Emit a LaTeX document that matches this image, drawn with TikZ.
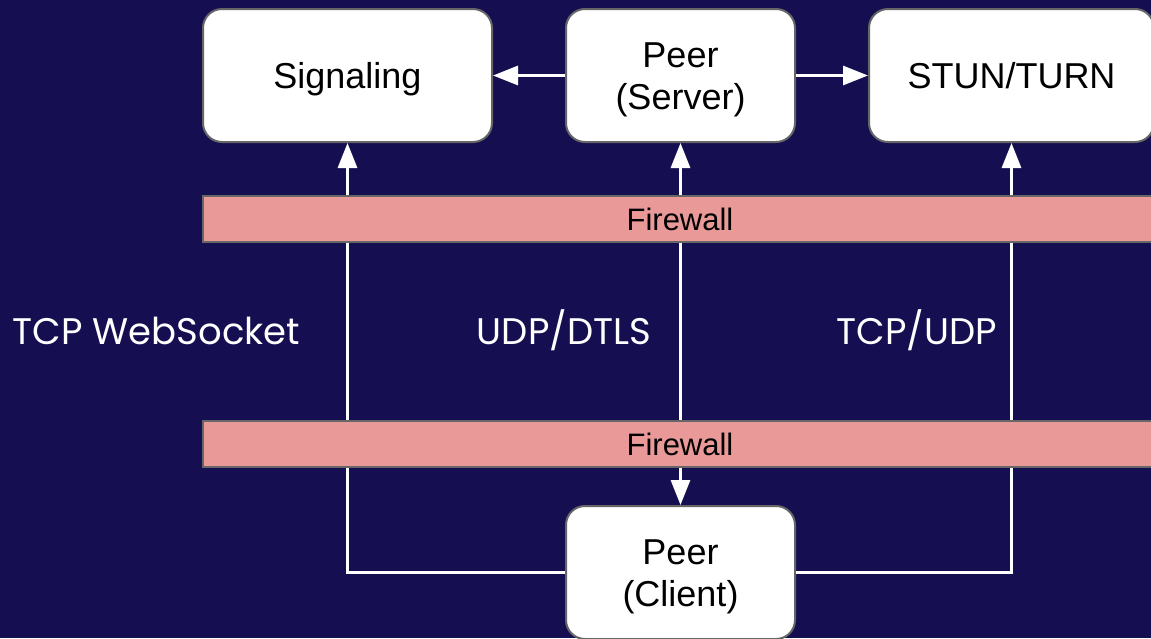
\documentclass[tikz,border=0pt]{standalone}
\usepackage{fontspec}
\setmainfont{Liberation Sans}
\newfontfamily\labelfont{Poppins}
\usetikzlibrary{arrows.meta}
\definecolor{bg}{RGB}{21,15,82}
\definecolor{fw}{RGB}{234,153,153}
\definecolor{bd}{RGB}{102,102,102}
\begin{document}
\begin{tikzpicture}[x=1pt,y=-1pt,
 box/.style={draw=bd, line width=2pt, fill=white, rounded corners=19pt, inner sep=0pt, align=center, text=black, font=\fontsize{36}{42}\selectfont, minimum height=133pt, text height=25pt, text depth=0pt},
 twoline/.style={text height=67pt, text depth=0pt},
 wall/.style={draw=bd, line width=2pt, fill=fw, inner sep=0pt, minimum height=46pt, minimum width=954pt, text=black, font=\fontsize{31}{36}\selectfont},
 link/.style={draw=white, line width=3pt},
 tip/.style={-{Triangle[length=25pt,width=19pt]}},
 tips/.style={{Triangle[length=25pt,width=19pt]}-{Triangle[length=25pt,width=19pt]}},
 lbl/.style={text=white, anchor=base, inner sep=0pt, font=\labelfont\fontsize{37}{44}\selectfont}
]
\fill[bg] (0,0) rectangle (1151,638);
\useasboundingbox (0,0) rectangle (1151,638);
% boxes
\node[box, minimum width=289pt] (sig) at (347.5,75.5) {Signaling};
\node[box, twoline, minimum width=229pt] (srv) at (680.5,75.5) {Peer\\(Server)};
\node[box, minimum width=285pt] (stun) at (1011.5,75.5) {STUN/TURN};
\node[box, twoline, minimum width=229pt] (cli) at (680.5,572.5) {Peer\\(Client)};
% connectors
\draw[link, tip] (srv.west) -- (sig.east);
\draw[link, tip] (srv.east) -- (stun.west);
\draw[link, tip] (cli.west) -| (sig.south);
\draw[link, tip] (cli.east) -| (stun.south);
\draw[link, tips] (cli.north) -- (srv.south);
% firewalls
\node[wall] (fw1) at (680,219) {Firewall};
\node[wall] (fw2) at (680,444) {Firewall};
% labels
\node[lbl] (l1) at (156.5,344) {TCP WebSocket};
\node[lbl] (l2) at (564,344) {UDP/DTLS};
\node[lbl] (l3) at (916.5,344) {TCP/UDP};
\end{tikzpicture}
\end{document}
